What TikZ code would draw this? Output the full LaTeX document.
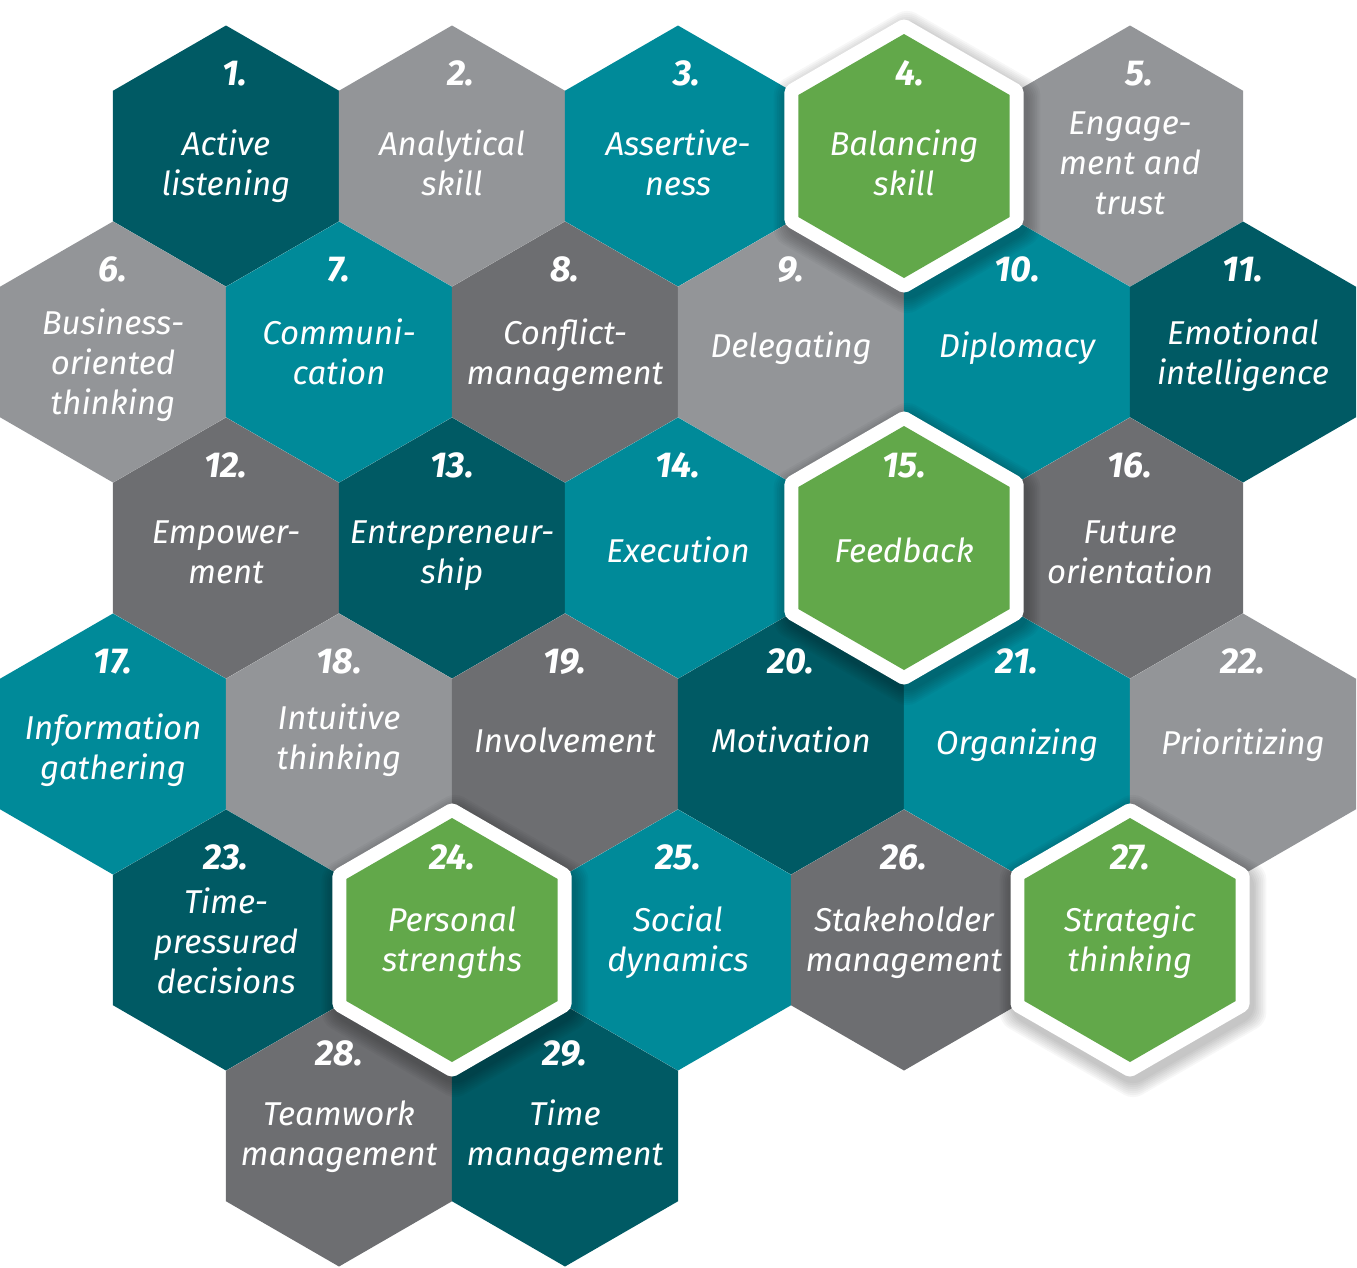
\documentclass[tikz,border=0pt]{standalone}
\usepackage{fontspec}
\setmainfont{Fira Sans}
\usepackage{tikz}

\definecolor{tealdark}{HTML}{005A64}
\definecolor{tealmid}{HTML}{008A99}
\definecolor{greylight}{HTML}{939598}
\definecolor{greydark}{HTML}{6D6E71}
\definecolor{leafgreen}{HTML}{62A84A}

\tikzset{
  cellnum/.style={text=white, anchor=base, inner sep=0pt,
    font=\fontsize{36}{40}\selectfont\bfseries\itshape},
  celltext/.style={text=white, align=center, inner sep=0pt,
    font=\fontsize{33}{40}\selectfont\itshape,
    execute at begin node=\strut, execute at end node=\strut},
  frame/.style={fill=white, rounded corners=5pt},
  haze/.style={fill=black, opacity=0.03, rounded corners=10pt},
}

\begin{document}
\begin{tikzpicture}[x=1pt,y=-1pt]
  \useasboundingbox (0,0) rectangle (1357,1267);
  % plain cells: x/y/colour/number/text shift/text
  \foreach \x/\y/\c/\n/\dy/\t in {
    226/156/tealdark/1/13/{Active\\listening},
    452/156/greylight/2/13/{Analytical\\skill},
    678/156/tealmid/3/13/{Assertive-\\ness},
    1130/156/greylight/5/13/{Engage-\\ment and\\trust},
    113/352/greylight/6/16/{Business-\\oriented\\thinking},
    339/352/tealmid/7/6/{Communi-\\cation},
    565/352/greydark/8/6/{Conflict-\\management},
    791/352/greylight/9/-3/{Delegating},
    1017/352/tealmid/10/-3/{Diplomacy},
    1243/352/tealdark/11/6/{Emotional\\intelligence},
    226/548/greydark/12/10/{Empower-\\ment},
    452/548/tealdark/13/10/{Entrepreneur-\\ship},
    678/548/tealmid/14/6/{Execution},
    1130/548/greydark/16/10/{Future\\orientation},
    113/744/tealmid/17/9/{Information\\gathering},
    339/744/greylight/18/-1/{Intuitive\\thinking},
    565/744/greydark/19/0/{Involvement},
    791/744/tealdark/20/0/{Motivation},
    1017/744/tealmid/21/2/{Organizing},
    1243/744/greylight/22/2/{Prioritizing},
    226/940/tealdark/23/7/{Time-\\pressured\\decisions},
    678/940/tealmid/25/5/{Social\\dynamics},
    904/940/greydark/26/5/{Stakeholder\\management},
    339/1136/greydark/28/3/{Teamwork\\management},
    565/1136/tealdark/29/3/{Time\\management}}{
    \pgfmathsetmacro\ndx{\y<200 ? 9 : 0}
    \fill[\c] (\x,\y) +(30:130.5) -- +(90:130.5) -- +(150:130.5)
      -- +(210:130.5) -- +(270:130.5) -- +(330:130.5) -- cycle;
    \node[cellnum] (num\n) at (\x+\ndx,\y-71) {\n.};
    \node[celltext] (cell\n) at (\x,\y+\dy) {\t};
  }
  % highlighted cells
  \foreach \x/\y/\n/\dy/\t in {
    904/156/4/13/{Balancing\\skill},
    904/548/15/6/{Feedback},
    452/940/24/5/{Personal\\strengths},
    1130/940/27/5/{Strategic\\thinking}}{
    \pgfmathsetmacro\ndx{\y<200 ? 6 : 0}
    \foreach \s in {2,4,...,16}
      \path[haze] (\x+3,\y+6) +(30:138+\s) -- +(90:138+\s) -- +(150:138+\s)
        -- +(210:138+\s) -- +(270:138+\s) -- +(330:138+\s) -- cycle;
    \path[frame] (\x,\y) +(30:138) -- +(90:138) -- +(150:138)
      -- +(210:138) -- +(270:138) -- +(330:138) -- cycle;
    \fill[leafgreen] (\x,\y) +(30:122) -- +(90:122) -- +(150:122)
      -- +(210:122) -- +(270:122) -- +(330:122) -- cycle;
    \node[cellnum] (num\n) at (\x+\ndx,\y-71) {\n.};
    \node[celltext] (cell\n) at (\x,\y+\dy) {\t};
  }
\end{tikzpicture}
\end{document}
